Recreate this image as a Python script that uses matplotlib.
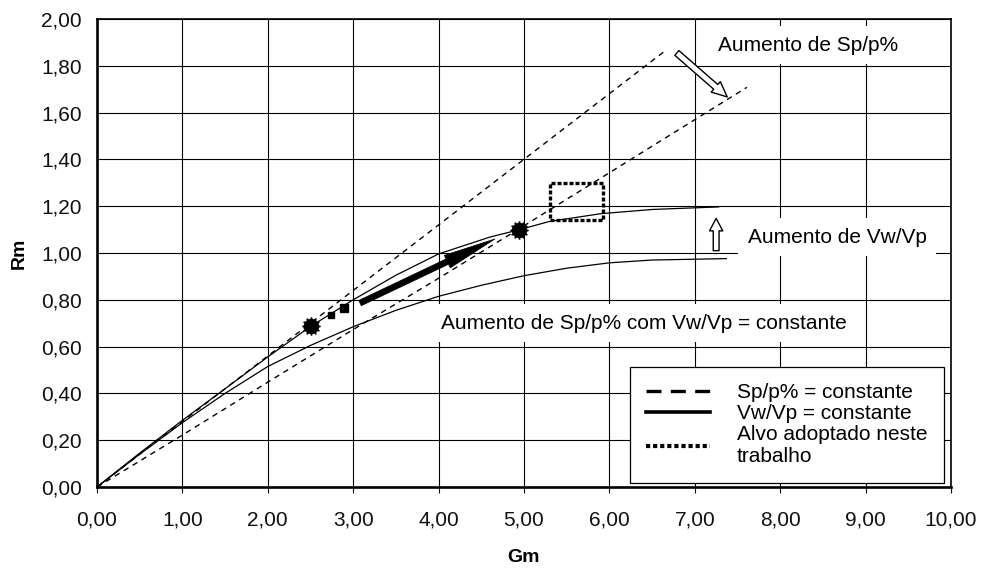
import numpy as np
import matplotlib
matplotlib.use("Agg")
import matplotlib.pyplot as plt
from matplotlib.lines import Line2D

plt.rcParams['font.family'] = ['Liberation Sans', 'DejaVu Sans']

# curvas Sp/p% = constante (tracejado)
gm_sp_alto = [0.0, 2.0, 4.0, 6.66]
rm_sp_alto = [0.0, 0.56, 1.12, 1.866]
gm_sp_baixo = [0.0, 1.0, 2.0, 3.0, 4.0, 4.95, 7.61]
rm_sp_baixo = [0.0, 0.222, 0.448, 0.673, 0.892, 1.105, 1.708]

# curvas Vw/Vp = constante (cheio)
gm_vw_alto = [0.0, 0.5, 1.0, 1.5, 2.0, 2.5, 3.0, 3.5, 4.0, 4.6, 4.95, 5.3, 5.9, 6.5, 7.28]
rm_vw_alto = [0.0, 0.145, 0.285, 0.42, 0.556, 0.686, 0.80, 0.905, 0.996, 1.068, 1.10, 1.135, 1.168, 1.186, 1.197]
gm_vw_baixo = [0.0, 0.5, 1.0, 1.5, 2.0, 2.5, 3.0, 3.5, 4.0, 4.5, 5.0, 5.5, 6.0, 6.5, 7.37]
rm_vw_baixo = [0.0, 0.14, 0.275, 0.40, 0.515, 0.605, 0.685, 0.755, 0.815, 0.862, 0.903, 0.935, 0.958, 0.97, 0.976]

# pontos de intersecção
gm_pontos = [2.50, 4.94]
rm_pontos = [0.686, 1.10]

# alvo adoptado (rectângulo)
gm_alvo = [5.31, 5.93, 5.93, 5.31, 5.31]
rm_alvo = [1.14, 1.14, 1.30, 1.30, 1.14]

# percurso (seta preta)
gm_percurso = [2.74, 2.89, 3.08, 4.66]
rm_percurso = [0.735, 0.764, 0.786, 1.06]

fig = plt.figure(figsize=(9.82, 5.68), dpi=100)
ax = fig.add_axes([97/982, 81/568, 854/982, 468/568])

ax.set_xlim(0, 10)
ax.set_ylim(0, 2)
ax.set_xticks(np.arange(0, 10.01, 1))
ax.set_yticks(np.arange(0, 2.001, 0.2))
ax.set_xticklabels([f"{v:.2f}".replace('.', ',') for v in np.arange(0, 10.01, 1)])
ax.set_yticklabels([f"{v:.2f}".replace('.', ',') for v in np.arange(0, 2.001, 0.2)])
ax.tick_params(axis='x', direction='out', length=4, width=0.8, pad=13, labelsize=15, colors='#111111')
ax.tick_params(axis='y', length=0, pad=11, labelsize=15, colors='#111111')
ax.grid(True, color='black', lw=0.8)
ax.set_axisbelow(True)
for s in ['left', 'bottom']:
    ax.spines[s].set_linewidth(1.9)
for s in ['top', 'right']:
    ax.spines[s].set_linewidth(1.2)

ax.set_xlabel('Gm', fontsize=14, fontweight='bold')
ax.set_ylabel('Rm', fontsize=14, fontweight='bold')
ax.xaxis.set_label_coords(0.5, -0.15)
ax.xaxis.label.set_va('center')
ax.yaxis.set_label_coords(-0.091, 0.5)
ax.yaxis.label.set_va('center')

ax.plot(gm_sp_alto, rm_sp_alto, color='black', lw=1.0, dashes=(4, 3.5))
ax.plot(gm_sp_baixo, rm_sp_baixo, color='black', lw=1.0, dashes=(4, 3.5))
ax.plot(gm_vw_alto, rm_vw_alto, color='black', lw=0.9)
ax.plot(gm_vw_baixo, rm_vw_baixo, color='black', lw=0.9)

ax.plot(gm_alvo, rm_alvo, color='black', lw=2.4, dashes=(1.2, 0.6), solid_capstyle='butt')

ax.plot(gm_percurso[:1], rm_percurso[:1], 's', color='black', ms=4.5)
ax.plot(gm_percurso[1:2], rm_percurso[1:2], 's', color='black', ms=5.5)
ax.annotate('', xy=(gm_percurso[3], rm_percurso[3]), xytext=(gm_percurso[2], rm_percurso[2]),
            arrowprops=dict(arrowstyle='simple,head_length=3.8,head_width=1.0,tail_width=0.42',
                            fc='black', ec='black', lw=0.5, mutation_scale=10,
                            shrinkA=0, shrinkB=0))

ax.plot(gm_pontos, rm_pontos, 'o', color='black', ms=10, zorder=5)
ax.plot(gm_pontos, rm_pontos, marker=(12, 1, 0), ls='none', color='black', ms=13, zorder=5)

# setas ocas
ax.annotate('', xy=(7.38, 1.667), xytext=(6.79, 1.855),
            arrowprops=dict(arrowstyle='simple,head_length=1.1,head_width=1.0,tail_width=0.45',
                            fc='white', ec='black', lw=1.0, mutation_scale=10,
                            shrinkA=0, shrinkB=0))
ax.annotate('', xy=(7.25, 1.148), xytext=(7.25, 1.01),
            arrowprops=dict(arrowstyle='simple,head_length=0.9,head_width=0.95,tail_width=0.42',
                            fc='white', ec='black', lw=1.0, mutation_scale=10,
                            shrinkA=0, shrinkB=0))

box = dict(facecolor='white', edgecolor='none', pad=7)
ax.text(7.27, 1.888, 'Aumento de Sp/p%', fontsize=15, va='center', ha='left', bbox=box)
ax.text(7.62, 1.068, 'Aumento de Vw/Vp', fontsize=15, va='center', ha='left', bbox=box)
ax.text(4.03, 0.70, 'Aumento de Sp/p% com Vw/Vp = constante', fontsize=15, va='center',
        ha='left', bbox=box)

handles = [Line2D([], [], color='black', lw=2.4, dashes=(4.5, 2.8)),
           Line2D([], [], color='black', lw=2.6),
           Line2D([], [], color='black', lw=3.0, dashes=(1.0, 0.7))]
labels = ['Sp/p% = constante', 'Vw/Vp = constante', 'Alvo adoptado neste\ntrabalho']
leg = ax.legend(handles, labels, loc='lower right',
                bbox_to_anchor=((944-97)/854, (487-483)/468),
                fontsize=15, frameon=True, fancybox=False, edgecolor='black',
                framealpha=1, handlelength=3.05, handletextpad=1.3,
                labelspacing=0.1, borderpad=0.8, borderaxespad=0)
leg.get_frame().set_linewidth(0.9)

fig.savefig('out.png', dpi=100)
